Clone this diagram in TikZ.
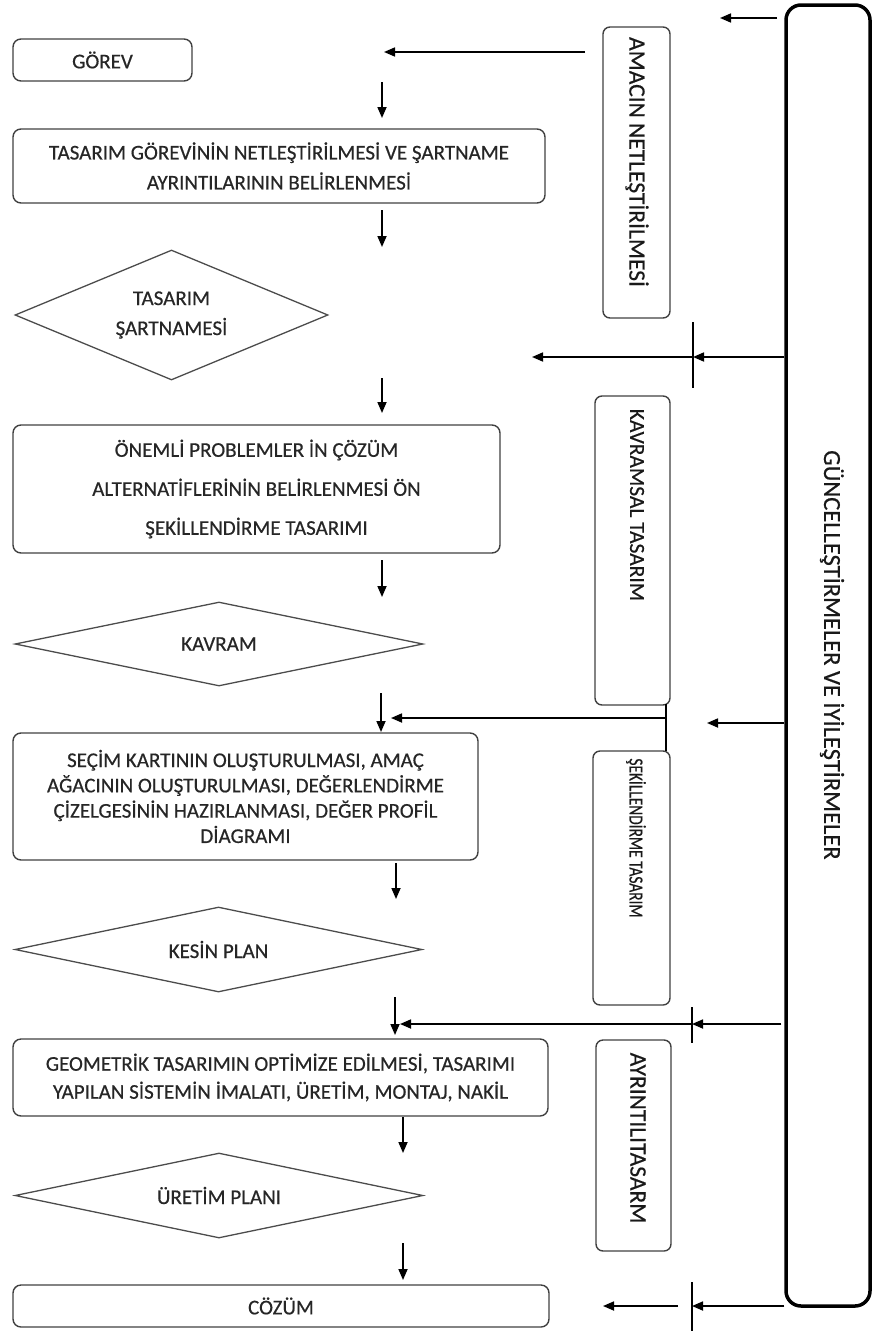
\documentclass[tikz,border=0pt]{standalone}
\usepackage{fontspec}
\setmainfont{Carlito}[FakeBold=0.5]
\usetikzlibrary{arrows.meta,shapes.geometric}
\begin{document}
\begin{tikzpicture}[x=1pt,y=-1pt,
  box/.style={draw=black!75, line width=1.4pt, rounded corners=8pt, inner sep=0pt, text=black!85, align=center},
  dia/.style={draw=black!70, line width=1.3pt, diamond, inner sep=0pt, text=black!85, align=center},
  side/.style={draw=black!75, line width=1.4pt, rounded corners=7pt, inner sep=0pt},
  lbl/.style={text=black!90, rotate=-90, inner sep=0pt},
  arr/.style={line width=1.7pt, -{Triangle[length=11pt,width=9pt]}},
  ln/.style={line width=1.5pt},
  ft/.style={font=\fontsize{21}{#1}\selectfont}
]
\useasboundingbox (0,0) rectangle (873,1333);

% ---- left column
\node[box, ft=25, minimum width=179pt, minimum height=42pt] (GOREV) at (102.5,60) {GÖREV};
\node[box, ft=30, minimum width=532pt, minimum height=74pt] (TASK) at (279,166)
  {TASARIM GÖREVİNİN NETLEŞTİRİLMESİ VE ŞARTNAME\\AYRINTILARININ BELİRLENMESİ};
\node[dia, ft=30, aspect=2.4, minimum width=313pt, minimum height=130pt] (SART) at (171.5,315)
  {TASARIM\\ŞARTNAMESİ};
\node[box, ft=39, minimum width=487pt, minimum height=128pt] (ONEM) at (256.5,489)
  {ÖNEMLİ PROBLEMLER İN ÇÖZÜM\\ALTERNATİFLERİNİN BELİRLENMESİ ÖN\\ŞEKİLLENDİRME TASARIMI};
\node[dia, ft=25, aspect=4.8, minimum width=408pt, minimum height=84pt] (KAV) at (219,644) {KAVRAM};
\node[box, ft=25.3, minimum width=465pt, minimum height=127pt] (SECIM) at (245.5,796.5)
  {SEÇİM KARTININ OLUŞTURULMASI, AMAÇ\\AĞACININ OLUŞTURULMASI, DEĞERLENDİRME\\ÇİZELGESİNİN HAZIRLANMASI, DEĞER PROFİL\\DİAGRAMI};
\node[dia, ft=25, aspect=4.8, minimum width=407pt, minimum height=85pt] (KESIN) at (218.5,949.5) {KESİN PLAN};
\node[box, ft=28, minimum width=535pt, minimum height=77pt] (GEO) at (280.5,1077.5)
  {GEOMETRİK TASARIMIN OPTİMİZE EDİLMESİ, TASARIMI\\YAPILAN SİSTEMİN İMALATI, ÜRETİM, MONTAJ, NAKİL};
\node[dia, ft=25, aspect=4.8, minimum width=408pt, minimum height=85pt] (URET) at (219,1195.5) {ÜRETİM PLANI};
\node[box, ft=25, minimum width=536pt, minimum height=42pt] (COZUM) at (281,1306) {CÖZÜM};

% ---- side boxes
\node[side, minimum width=67pt, minimum height=291pt] (AMAC) at (636.5,172.5) {};
\node[lbl, font=\fontsize{23.5}{28}\selectfont] (AMACT) at (637,162) {AMACIN NETLEŞTİRİLMESİ};
\node[side, minimum width=75pt, minimum height=309pt] (KAVS) at (632.5,550.5) {};
\node[lbl, font=\fontsize{21.5}{26}\selectfont] (KAVST) at (637,505) {KAVRAMSAL TASARIM};
\node[side, minimum width=77pt, minimum height=254pt] (SEKIL) at (631.5,878) {};
\node[lbl, font=\fontsize{20}{24}\selectfont] (SEKILT) at (636,838) {\scalebox{0.77}[1]{ŞEKİLLENDİRME TASARIM}};
\node[side, minimum width=75pt, minimum height=211pt] (AYR) at (633.5,1145.5) {};
\node[lbl, font=\fontsize{23.5}{28}\selectfont] (AYRT) at (638,1138) {AYRINTILITASARM};

% ---- big update box
\node[draw=black, line width=3.5pt, rounded corners=15pt, minimum width=84pt, minimum height=1301pt, inner sep=0pt] (GUN) at (828,655.5) {};
\node[lbl, font=\fontsize{24.5}{29}\selectfont] (GUNT) at (832,655) {GÜNCELLEŞTİRMELER VE İYİLEŞTİRMELER};

% ---- coordinates
\coordinate (a1s) at (382,82);   \coordinate (a1e) at (382,118);
\coordinate (a2s) at (382,210);  \coordinate (a2e) at (382,247);
\coordinate (a3s) at (382,378);  \coordinate (a3e) at (382,413);
\coordinate (a4s) at (382,560);  \coordinate (a4e) at (382,597);
\coordinate (a5s) at (381,693);  \coordinate (a5e) at (381,732);
\coordinate (a6s) at (396,863);  \coordinate (a6e) at (396,899);
\coordinate (a7s) at (395,997);  \coordinate (a7e) at (395,1035);
\coordinate (a8s) at (403,1117); \coordinate (a8e) at (403,1153);
\coordinate (a9s) at (403,1243); \coordinate (a9e) at (403,1280);

\coordinate (h0s) at (777,18);   \coordinate (h0e) at (720,18);
\coordinate (h1s) at (585,52);   \coordinate (h1e) at (384,52);
\coordinate (t1) at (693,357);   \coordinate (t1a) at (693,322); \coordinate (t1b) at (693,388);
\coordinate (h2e) at (532,357);
\coordinate (v3a) at (666,704);  \coordinate (v3b) at (666,751); \coordinate (v3m) at (666,718);
\coordinate (h3e) at (391,718);
\coordinate (h4e) at (707,723);
\coordinate (t2) at (692,1024);  \coordinate (t2a) at (692,1007); \coordinate (t2b) at (692,1043);
\coordinate (h5e) at (400,1024);
\coordinate (t3) at (692,1306);  \coordinate (t3a) at (692,1282); \coordinate (t3b) at (692,1331);
\coordinate (h6s) at (678,1306); \coordinate (h6e) at (603,1306);

% ---- down arrows
\foreach \i in {1,...,9} \draw[arr] (a\i s) -- (a\i e);

% ---- right side connectors
\draw[arr] (h0s) -- (h0e);
\draw[arr] (h1s) -- (h1e);
\draw[arr] (GUN.west |- t1) -- (t1);
\draw[ln] (t1a) -- (t1b);
\draw[arr] (t1) -- (h2e);
\draw[ln] (v3a) -- (v3b);
\draw[arr] (v3m) -- (h3e);
\draw[arr] (GUN.west |- h4e) -- (h4e);
\draw[arr] ([xshift=-3pt]GUN.west |- t2) -- (t2);
\draw[ln] (t2a) -- (t2b);
\draw[arr] (t2) -- (h5e);
\draw[arr] (GUN.west |- t3) -- (t3);
\draw[ln] (t3a) -- (t3b);
\draw[arr] (h6s) -- (h6e);
\end{tikzpicture}
\end{document}
